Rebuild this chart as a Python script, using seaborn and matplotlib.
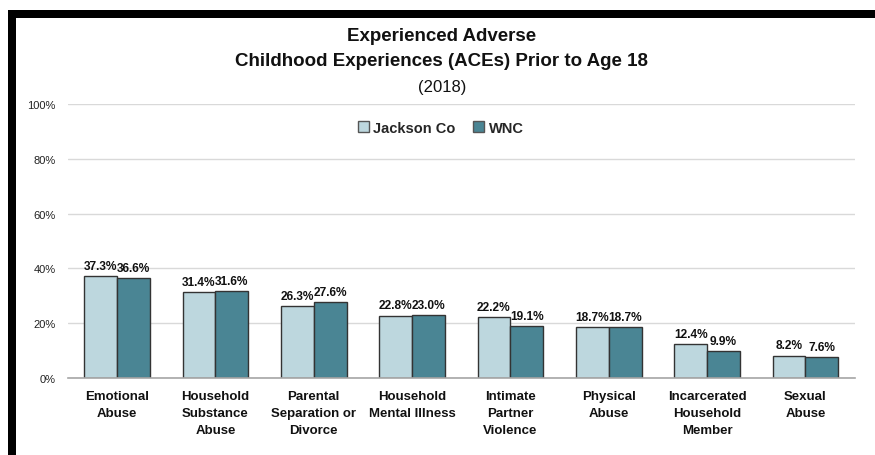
import matplotlib
matplotlib.use("Agg")
import matplotlib.pyplot as plt
import seaborn as sns
import pandas as pd
from matplotlib.patches import Rectangle

categories = ["Emotional\nAbuse", "Household\nSubstance\nAbuse", "Parental\nSeparation or\nDivorce",
              "Household\nMental Illness", "Intimate\nPartner\nViolence", "Physical\nAbuse",
              "Incarcerated\nHousehold\nMember", "Sexual\nAbuse"]
jackson = [37.3, 31.4, 26.3, 22.8, 22.2, 18.7, 12.4, 8.2]
wnc = [36.6, 31.6, 27.6, 23.0, 19.1, 18.7, 9.9, 7.6]
series = ["Jackson Co", "WNC"]
yticks = [0, 20, 40, 60, 80, 100]

df = pd.DataFrame({
    "category": categories * 2,
    "value": jackson + wnc,
    "series": [series[0]] * len(categories) + [series[1]] * len(categories),
})

sns.set_theme(style="white")
plt.rcParams["font.family"] = ["Liberation Sans", "DejaVu Sans"]

fig = plt.figure(figsize=(8.75, 4.56), dpi=100)
ax = fig.add_axes([0.0777, 0.169, 0.899, 0.600])

palette = {"Jackson Co": "#BDD7DE", "WNC": "#4A8594"}
sns.barplot(data=df, x="category", y="value", hue="series", palette=palette,
            width=0.67, edgecolor="#333333", linewidth=1.0, saturation=1, ax=ax,
            order=categories, hue_order=series)

for c in ax.containers:
    ax.bar_label(c, labels=[f"{v:.1f}%" for v in c.datavalues], padding=3,
                 fontsize=8.6, fontweight="bold", color="#111111")

ax.set_ylim(0, 100)
ax.set_xlim(-0.5, len(categories) - 0.5)
ax.set_yticks(yticks)
ax.set_yticklabels([f"{t}%" for t in yticks], fontsize=8, color="#222222")
ax.tick_params(axis="y", length=0, pad=9)
ax.tick_params(axis="x", length=0, pad=9)
for lbl in ax.get_xticklabels():
    lbl.set_fontweight("bold")
    lbl.set_fontsize(9.5)
    lbl.set_color("#111111")
    lbl.set_verticalalignment("top")
    lbl.set_linespacing(1.55)
ax.set_xlabel("")
ax.set_ylabel("")
ax.yaxis.grid(True, color="#D9D9D9", linewidth=1)
ax.set_axisbelow(True)
for s in ["top", "right", "left"]:
    ax.spines[s].set_visible(False)
ax.spines["bottom"].set_color("#A6A6A6")
ax.spines["bottom"].set_linewidth(1.2)

leg = ax.legend(loc="center", bbox_to_anchor=(0.474, 0.915), ncol=2, frameon=False,
                fontsize=10.5, handlelength=0.75, handleheight=0.75, handletextpad=0.3,
                columnspacing=1.2)
for t in leg.get_texts():
    t.set_fontweight("bold")
for h in leg.legend_handles:
    h.set_edgecolor("#555555")

fig.text(0.505, 0.921, "Experienced Adverse", ha="center", va="center",
         fontsize=13.5, fontweight="bold", color="#111111")
fig.text(0.505, 0.866, "Childhood Experiences (ACEs) Prior to Age 18", ha="center", va="center",
         fontsize=13.5, fontweight="bold", color="#111111")
fig.text(0.505, 0.808, "(2018)", ha="center", va="center", fontsize=12, color="#111111")

# outer black frame
fig.patches.append(Rectangle((12 / 875, -2 / 456), 1.0, 1 - 15 / 456 + 2 / 456,
                             transform=fig.transFigure, fill=False, edgecolor="black",
                             linewidth=8 * 72 / 100, zorder=10))

fig.savefig("out.png", dpi=100)
